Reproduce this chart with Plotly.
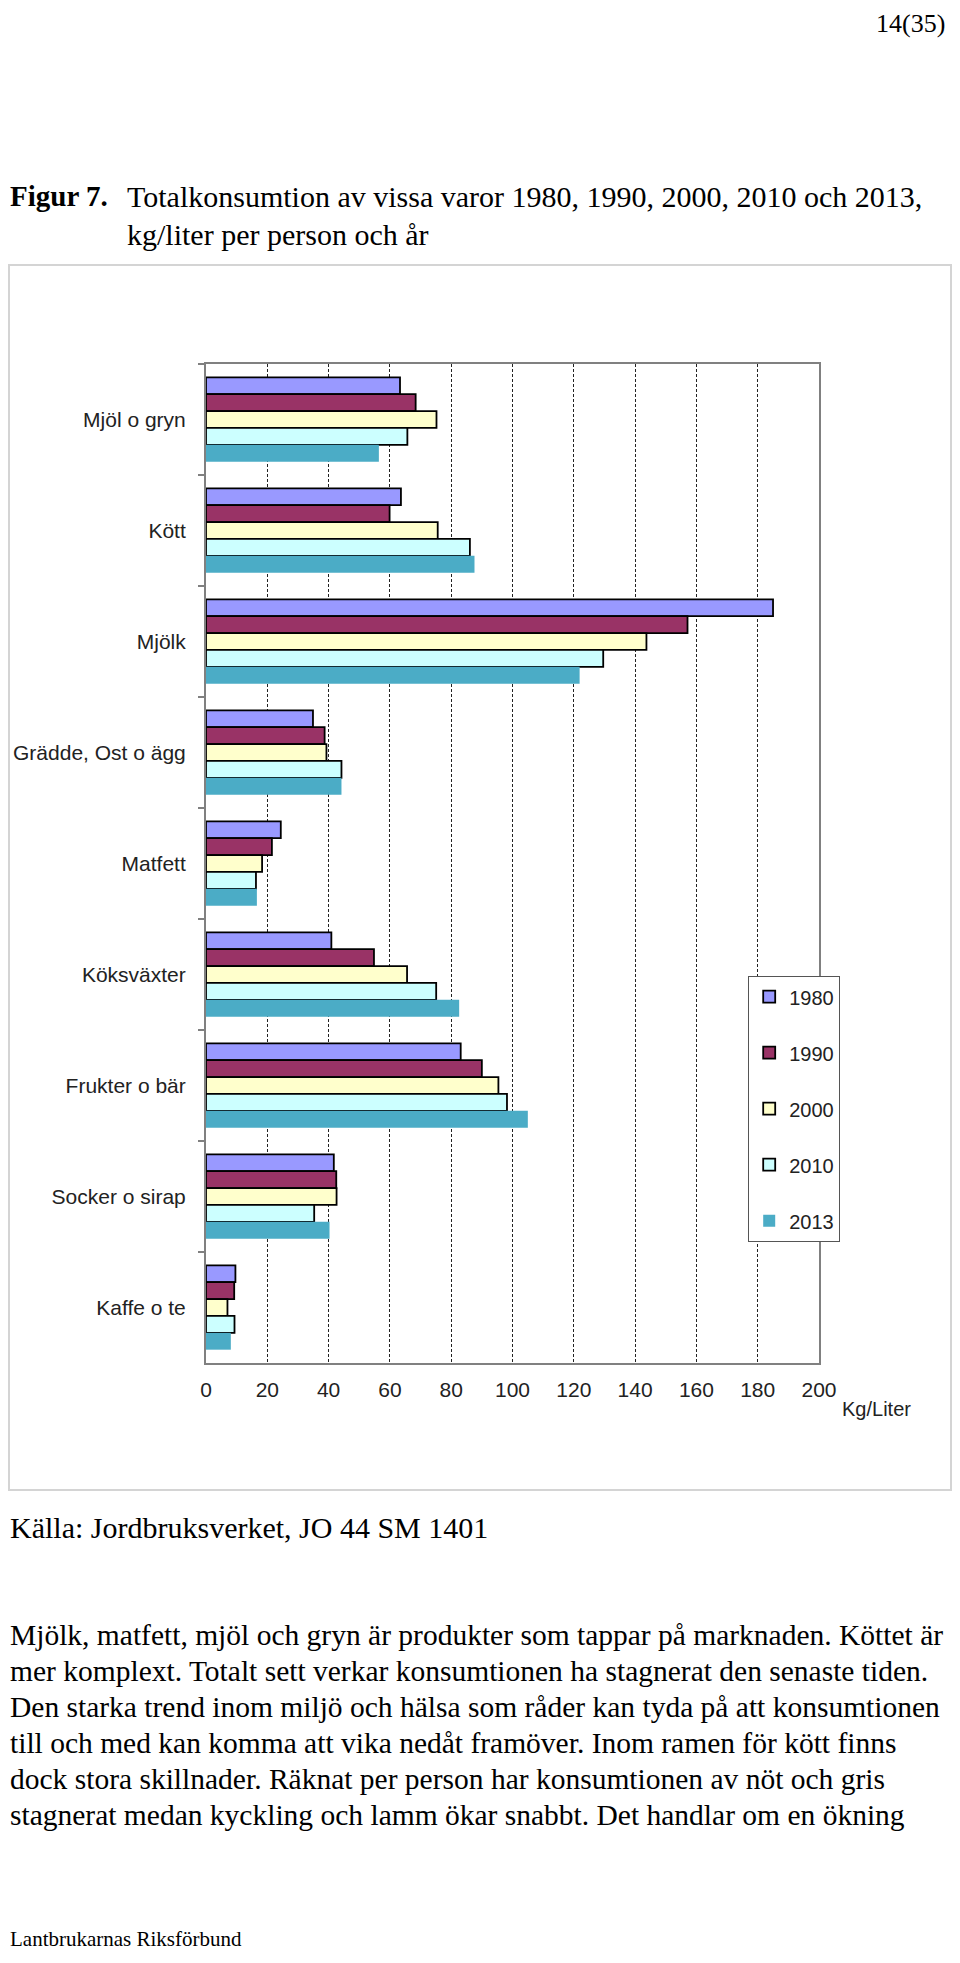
import plotly.graph_objects as go

categories = ["Mjöl o gryn", "Kött", "Mjölk", "Grädde, Ost o ägg", "Matfett",
              "Köksväxter", "Frukter o bär", "Socker o sirap", "Kaffe o te"]
years = ["1980", "1990", "2000", "2010", "2013"]
v1980 = [63.3, 63.6, 185.0, 34.9, 24.4, 40.9, 83.1, 41.7, 9.6]
v1990 = [68.4, 59.9, 157.1, 38.7, 21.5, 54.8, 90.0, 42.5, 9.2]
v2000 = [75.2, 75.6, 143.7, 39.3, 18.3, 65.6, 95.4, 42.6, 7.0]
v2010 = [65.7, 86.1, 129.6, 44.2, 16.3, 75.1, 98.2, 35.3, 9.3]
v2013 = [56.4, 87.6, 121.9, 44.2, 16.6, 82.6, 105.0, 40.3, 8.1]
series = [v1980, v1990, v2000, v2010, v2013]
colors = ["#9999FF", "#993366", "#FFFFCC", "#CCFFFF", "#4BACC6"]
outline = [1.8, 1.8, 1.8, 1.8, 0]
xticks = list(range(0, 201, 20))

# page body has an 8px margin; work in screen pixels and convert
OFF = 8
W, H = 960 - 2 * OFF, 1963 - 2 * OFF
L, R, T, B = 206 - OFF, 819 - OFF, 364 - OFF, 1363 - OFF


def px(x):
    return (x - OFF - L) / (R - L)


def py(y):
    return (B - (y - OFF)) / (B - T)


fig = go.Figure()
for yr, vals, col, lw in zip(years, series, colors, outline):
    fig.add_trace(go.Bar(
        y=categories, x=vals, name=yr, orientation="h",
        marker=dict(color=col, line=dict(color="#000000", width=lw)),
        legendgroup=yr,
    ))

chart_font = "Liberation Sans, Arial, sans-serif"
serif = "Liberation Serif, Times New Roman, serif"

fig.update_layout(
    width=W, height=H,
    margin=dict(l=L, r=W - R, t=T, b=H - B, pad=0, autoexpand=False),
    paper_bgcolor="white", plot_bgcolor="white",
    barmode="group", bargap=0.24, bargroupgap=0,
    showlegend=True,
    legend=dict(x=px(748), y=py(976), xanchor="left", yanchor="top",
                bgcolor="white", bordercolor="#555555", borderwidth=1.2,
                font=dict(family=chart_font, size=20, color="#222222"),
                traceorder="grouped", tracegroupgap=27,
                itemwidth=30),
    xaxis=dict(range=[0, 200], tickvals=xticks, ticks="", automargin=False,
               showline=True, linecolor="#808080", linewidth=2, mirror=True,
               showgrid=True, gridcolor="#222222", gridwidth=1, griddash="3px,2px",
               zeroline=False, ticklabelstandoff=7,
               tickfont=dict(family=chart_font, size=21, color="#222222")),
    xaxis2=dict(range=[0, 200], tickvals=xticks, overlaying="x", side="top",
                anchor="y", ticks="outside", ticklen=6, tickcolor="#808080",
                tickwidth=1.5, showticklabels=False, showgrid=False,
                showline=False, zeroline=False, automargin=False),
    yaxis=dict(categoryorder="array", categoryarray=categories,
               autorange="reversed", tickson="boundaries", ticks="outside",
               ticklen=6, tickcolor="#808080", tickwidth=1.5, automargin=False,
               showline=True, linecolor="#808080", linewidth=2, mirror=True,
               showgrid=False, zeroline=False, ticklabelstandoff=14,
               tickfont=dict(family=chart_font, size=21, color="#222222")),
)

# chart frame
fig.add_shape(type="rect", xref="paper", yref="paper",
              x0=px(OFF + 1), x1=px(951), y0=py(1490), y1=py(265),
              line=dict(color="#d4d4d4", width=2), layer="below")


def ann(text, x, y, size, family=serif, xanchor="left", color="#000000"):
    fig.add_annotation(text=text, xref="paper", yref="paper", x=px(x), y=py(y),
                       xanchor=xanchor, yanchor="middle", showarrow=False,
                       font=dict(family=family, size=size, color=color))


ann("Kg/Liter", 840, 1409, 20, family=chart_font, color="#222222")
ann("14(35)", 947, 24, 26, xanchor="right")
ann("<b>Figur 7.</b>", OFF, 196, 29)
ann("Totalkonsumtion av vissa varor 1980, 1990, 2000, 2010 och 2013,", 125, 196, 30)
ann("kg/liter per person och år", 125, 234, 30)
ann("Källa: Jordbruksverket, JO 44 SM 1401", OFF, 1527, 30)

body = [
    "Mjölk, matfett, mjöl och gryn är produkter som tappar på marknaden. Köttet är",
    "mer komplext. Totalt sett verkar konsumtionen ha stagnerat den senaste tiden.",
    "Den starka trend inom miljö och hälsa som råder kan tyda på att konsumtionen",
    "till och med kan komma att vika nedåt framöver. Inom ramen för kött finns",
    "dock stora skillnader. Räknat per person har konsumtionen av nöt och gris",
    "stagnerat medan kyckling och lamm ökar snabbt. Det handlar om en ökning",
]
for i, line in enumerate(body):
    ann(line, OFF, 1635 + i * 36, 29.5)

ann("Lantbrukarnas Riksförbund", OFF, 1939, 21)

fig.write_html("out.html")
